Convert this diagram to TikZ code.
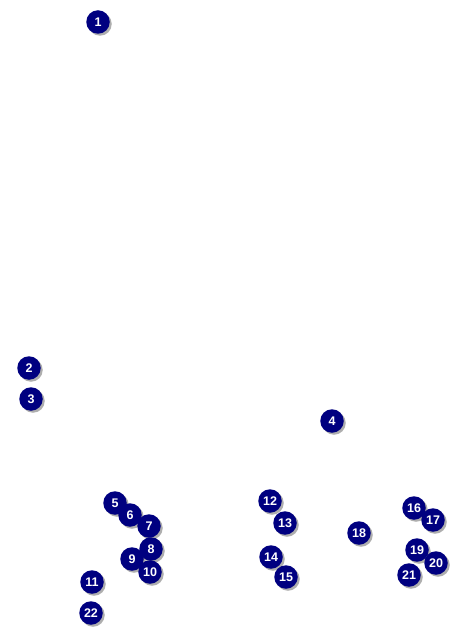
\documentclass[tikz,border=0pt]{standalone}
\usepackage{fontspec}
\setmainfont{Liberation Sans}
\definecolor{ballblue}{HTML}{000080}
\definecolor{shadowgray}{HTML}{8C8C8C}
\begin{document}
\begin{tikzpicture}[x=1pt,y=-1pt,
  ball/.style={circle,fill=ballblue,draw=none,minimum size=23.5pt,inner sep=0pt,
    text=white,font=\bfseries\fontsize{12.5}{14}\selectfont,
    preaction={fill=shadowgray,opacity=0.7,transform canvas={shift={(2pt,-2pt)}}}}]
\useasboundingbox (0,0) rectangle (468,636);
\node[ball] (n1) at (98,22) {1};
\node[ball] (n2) at (29,368) {2};
\node[ball] (n3) at (31,399) {3};
\node[ball] (n4) at (332,421) {4};
\node[ball] (n5) at (115,503) {5};
\node[ball] (n6) at (130,515) {6};
\node[ball] (n7) at (149,526) {7};
\node[ball] (n9) at (132,559) {9};
\node[ball] (n8) at (151,549) {8};
\node[ball] (n10) at (150,572) {10};
\node[ball] (n11) at (92,582) {11};
\node[ball] (n12) at (270,501) {12};
\node[ball] (n13) at (285,523) {13};
\node[ball] (n14) at (271,557) {14};
\node[ball] (n15) at (286,577) {15};
\node[ball] (n16) at (414,508) {16};
\node[ball] (n17) at (433,520) {17};
\node[ball] (n18) at (359,533) {18};
\node[ball] (n19) at (417,550) {19};
\node[ball] (n20) at (436,563) {20};
\node[ball] (n21) at (409,575) {21};
\node[ball] (n22) at (91,613) {22};
\end{tikzpicture}
\end{document}
